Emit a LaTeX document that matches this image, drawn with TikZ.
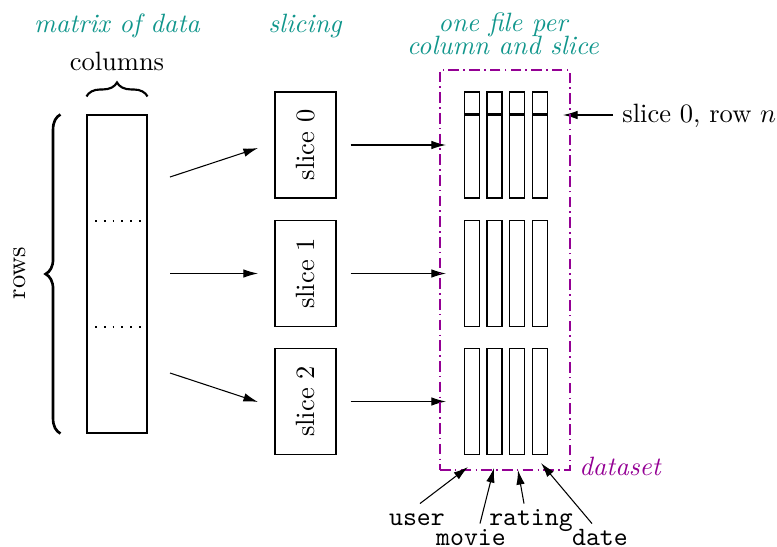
\documentclass[tikz,border=0pt]{standalone}
\usetikzlibrary{decorations.pathreplacing,arrows.meta}

\definecolor{headcol}{RGB}{17,150,140}
\definecolor{setcol}{RGB}{148,0,148}

\begin{document}
\begin{tikzpicture}[x=0.01326cm, y=-0.01326cm]

\def\px{0.01326cm}
\path [use as bounding box] (0,0) rectangle (777,547);

\tikzset{
	head/.style={text=headcol, font=\itshape, align=center},
	box/.style={draw, line width=0.4pt, inner sep=0pt},
	arr/.style={-{Latex[length=5.5pt, width=3.2pt]}, line width=0.4pt},
	lbl/.style={font=\ttfamily, inner sep=1pt, text height=1.6ex, text depth=0.3ex, anchor=base}
}

% HEADINGS
\node [head, anchor=base] (hmat) at (117,32) {matrix of data};
\node [head, anchor=base] (hslc) at (305,32) {slicing};
\node [head, anchor=base] (hfil) at (503,54) {one file per\\[-3.5pt]column and slice};

% MATRIX
\node [box, minimum width=60*\px, minimum height=318*\px] (mat) at (117,274) {};
\draw [line width=0.4pt, dash pattern=on 0.6pt off 2.7pt] (mat.west |- 0,221) -- (mat.east |- 0,221);
\draw [line width=0.4pt, dash pattern=on 0.6pt off 2.7pt] (mat.west |- 0,327) -- (mat.east |- 0,327);

% BRACES
\draw [decorate, decoration={brace, amplitude=5.3pt}, line width=0.8pt]
	([yshift=18*\px]mat.north west) -- ([yshift=18*\px]mat.north east);
\node [anchor=base] (cols) at (117,70) {columns};
\draw [decorate, decoration={brace, amplitude=5.6pt}, line width=1pt]
	([xshift=-26*\px]mat.south west) -- ([xshift=-26*\px]mat.north west);
\node [rotate=90] (rows) at (20,273) {rows};

% SLICES AND FILES
\foreach \i/\y/\ys/\yt in {0/145/177/148, 1/273.5/273.5/273.5, 2/401.5/373/402} {
	\node [box, rotate=90, minimum width=106*\px, minimum height=61*\px] (s\i) at (305.5,\y) {slice \i};
	\foreach \c/\x in {1/472, 2/494.5, 3/517, 4/540}
		\node [box, minimum width=15*\px, minimum height=106*\px] (f\i-\c) at (\x,\y) {};
	\coordinate (m\i) at (170,\ys);
	\coordinate (t\i) at (258,\yt);
	\draw [arr] (m\i) -- (t\i);
	\draw [arr] ([xshift=14*\px]s\i.south) -- ([xshift=-18*\px]f\i-1.west);
}

% ROW n
\foreach \c in {1,...,4}
	\draw [line width=0.8pt] ([yshift=-23*\px]f0-\c.north west) -- ([yshift=-23*\px]f0-\c.north east);
\node [anchor=base west] (rowlbl) at (613,122) {slice 0, row $n$};
\coordinate (rowpt) at (563,115);
\draw [arr] (rowlbl.west |- rowpt) -- (rowpt);

% DATASET
\node [draw=setcol, dash pattern=on 4pt off 1.6pt on 0.6pt off 1.6pt, line width=0.9pt,
	minimum width=130*\px, minimum height=400*\px] (ds) at (505,270) {};
\node [text=setcol, font=\itshape, anchor=base west] (dslbl) at (570,475) {dataset};

% COLUMN NAMES
\node [lbl] (user) at (417,525) {user};
\node [lbl] (movie) at (471,545) {movie};
\node [lbl] (rating) at (531,525) {rating};
\node [lbl] (date) at (600,545) {date};
\coordinate (tu) at (468,467);
\coordinate (tm) at (494,468);
\coordinate (tr) at (518,470);
\coordinate (td) at (541,463);
\draw [arr] ([xshift=3*\px]user.north) -- (tu);
\draw [arr] ([xshift=9*\px]movie.north) -- (tm);
\draw [arr] ([xshift=-7*\px]rating.north) -- (tr);
\draw [arr] ([xshift=-8*\px]date.north) -- (td);

\end{tikzpicture}
\end{document}
